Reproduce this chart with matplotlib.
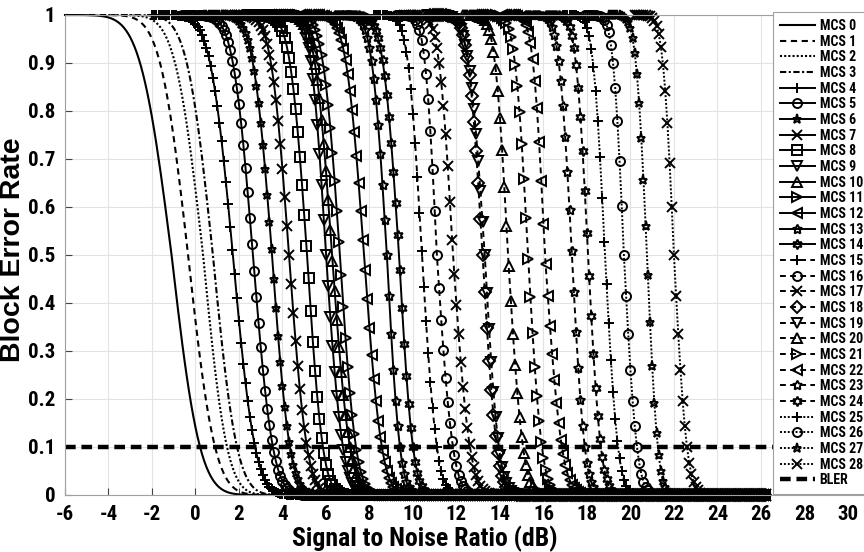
import math
import numpy as np
import matplotlib
matplotlib.use("Agg")
import matplotlib.pyplot as plt
from matplotlib import font_manager

_names = {f.name for f in font_manager.fontManager.ttflist}
NARROW = next((n for n in ['Liberation Sans Narrow', 'Arial Narrow', 'Roboto Condensed',
                           'PT Sans Narrow', 'Open Sans Condensed', 'Liberation Sans']
               if n in _names), 'DejaVu Sans')
plt.rcParams['font.family'] = [NARROW, 'DejaVu Sans']
plt.rcParams['font.weight'] = 'bold'
plt.rcParams['axes.unicode_minus'] = False

# ---- data ----
mcs_labels = [f"MCS {i}" for i in range(29)]
# SNR (dB) where each curve crosses BLER = 0.9, 0.5, 0.1
snr_bler90 = [-2.55, -1.63, -0.94, -0.40, 0.67, 1.72, 2.64, 3.47, 4.34, 5.31,
              5.49, 5.86, 6.92, 8.11, 8.62, 9.77, 10.55, 11.20, 12.53, 12.55,
              13.77, 14.69, 15.52, 16.71, 17.49, 18.28, 19.20, 20.25, 21.49]
snr_bler50 = [-1.10, -0.34, 0.35, 0.80, 1.72, 2.64, 3.52, 4.30, 5.13, 6.00,
              6.28, 6.64, 7.75, 8.80, 9.36, 10.41, 11.10, 11.84, 13.20, 13.30,
              14.37, 15.29, 16.07, 17.31, 18.05, 18.83, 19.70, 20.76, 22.00]
snr_bler10 = [0.21, 0.90, 1.45, 1.91, 2.74, 3.56, 4.34, 5.13, 5.86, 6.78,
              7.10, 7.38, 8.57, 9.40, 10.00, 11.10, 11.84, 12.62, 13.86, 13.95,
              15.06, 15.93, 16.85, 17.90, 18.64, 19.43, 20.30, 21.26, 22.60]
snr_end = 26.2
snr_step = 0.1
bler_target = 0.1
x_ticks = list(range(-6, 31, 2))
y_ticks = [0, 0.1, 0.2, 0.3, 0.4, 0.5, 0.6, 0.7, 0.8, 0.9, 1]
y_ticklabels = ['0', '0.1', '0.2', '0.3', '0.4', '0.5', '0.6', '0.7', '0.8', '0.9', '1']

# ---- styles ----
pent = (5, 1, 0)
hexa = (6, 1, 0)
dash = (0, (3, 2.2))
dot = (0, (1, 1))
styles = ([('-', None), (dash, None), (dot, None), ((0, (3, 1.2, 1, 1.2)), None)] +
          [('-', m) for m in ['+', 'o', '*', 'x', 's', 'v', '^', '>', '<', pent, hexa]] +
          [(dash, m) for m in ['+', 'o', 'x', 'D', 'v', '^', '>', '<', pent, hexa]] +
          [(dot, m) for m in ['+', 'o', '*', 'x']])

erfc = np.vectorize(math.erfc)
z90 = 1.2815516

fig = plt.figure(figsize=(8.64, 5.52), dpi=100)
ax = fig.add_axes([65/864, 1-495/552, (864-65)/864, (495-15)/552])

for i in range(29):
    mid = snr_bler50[i]
    sl = (mid - snr_bler90[i]) / z90
    sr = (snr_bler10[i] - mid) / z90
    start = max(-6.0, round((mid - 4.5 * sl) * 10) / 10)
    x = np.arange(start, snr_end + 1e-9, snr_step)
    sig = np.where(x < mid, sl, sr)
    y = 0.5 * erfc((x - mid) / sig / math.sqrt(2))
    ls, mk = styles[i]
    ax.plot(x, y, linestyle=ls, marker=mk, color='black', lw=1.5 if mk is None else 1.4,
            markersize=6.5 if mk not in (pent, hexa) else 7, markeredgewidth=1.4,
            markerfacecolor='none', label=mcs_labels[i], clip_on=False)

ax.plot([-6, 31], [bler_target, bler_target], color='black', lw=3.2,
        linestyle=(0, (2.4, 1.3)), label='BLER')

ax.set_xlim(-6, 30.74)
ax.set_ylim(0, 1)
ax.set_xticks(x_ticks)
ax.set_yticks(y_ticks)
ax.set_yticklabels(y_ticklabels)
ax.tick_params(direction='in', length=5, width=0.8, color='#444444', labelsize=15)
ax.tick_params(axis='x', pad=7)
ax.tick_params(axis='y', pad=7)
for lab in ax.get_xticklabels() + ax.get_yticklabels():
    lab.set_fontweight('bold')
ax.grid(True, color='#e3e3e3', lw=0.8)
ax.set_axisbelow(True)
for s in ax.spines.values():
    s.set_color('#a0a0a0')
    s.set_linewidth(0.8)
ax.set_xlabel('Signal to Noise Ratio (dB)', fontsize=18.5, fontweight='bold', va='center')
ax.xaxis.set_label_coords((425-65)/799, -(539-495)/480)
ax.set_ylabel('Block Error Rate', fontsize=20.5, fontweight='bold', va='center',
              family=['Liberation Sans', 'DejaVu Sans'])
ax.yaxis.set_label_coords((13-65)/799, (495-250)/480)

leg = fig.legend(loc='upper left', bbox_to_anchor=(773/864, 1-12/552), fontsize=10,
                 frameon=True, fancybox=False, framealpha=1, edgecolor='#a0a0a0',
                 handlelength=2.5, handletextpad=0.35, labelspacing=0.12,
                 borderpad=0.5, numpoints=1, borderaxespad=0)
leg.get_frame().set_linewidth(0.8)
leg.set_zorder(10)
for t in leg.get_texts():
    t.set_fontweight('bold')

fig.savefig('out.png', dpi=100)
